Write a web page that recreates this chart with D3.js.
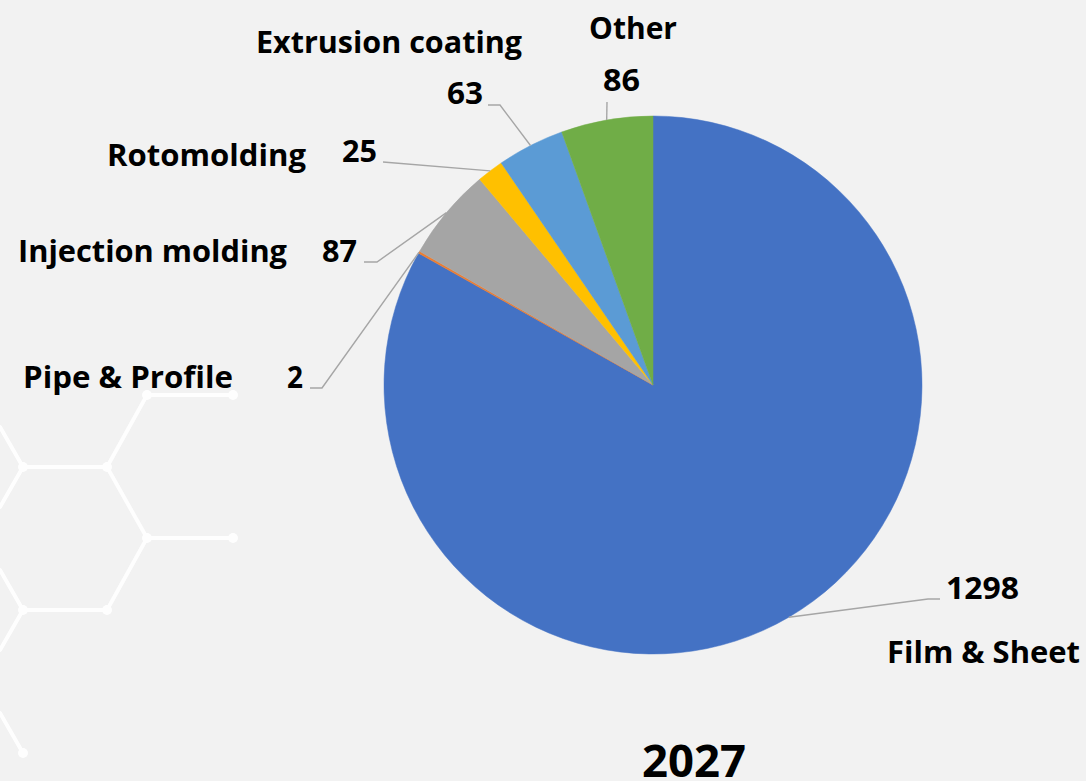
<!DOCTYPE html>
<html>
<head>
<meta charset="utf-8">
<script src="https://cdn.jsdelivr.net/npm/d3@7/dist/d3.min.js"></script>
<style>
  html, body { margin: 0; padding: 0; background: #f2f2f2; }
  svg { display: block; }
  text { font-family: "Open Sans", "Noto Sans", sans-serif; font-weight: 700; fill: #000; }
</style>
</head>
<body>
<svg id="chart" width="1086" height="781"></svg>
<script>
// ---- data ----
const categories = ["Film & Sheet", "Pipe & Profile", "Injection molding", "Rotomolding", "Extrusion coating", "Other"];
const values = [1298, 2, 87, 25, 63, 86];
const colors = ["#4472C4", "#ED7D31", "#A5A5A5", "#FFC000", "#5B9BD5", "#70AD47"];
const chartTitle = "2027";

// ---- layout (label placement, like the manually positioned Excel labels) ----
const labelLayout = [
  { elbow: [928, 599], end: [940, 599], vx: 946, vy: 599, va: "start",  vw: 73, nx: 887, ny: 663, na: "start",  nw: 193 },
  { elbow: [322, 388], end: [310, 388], vx: 303, vy: 388, va: "end",    vw: 16, nx: 233, ny: 388, na: "end",    nw: 210 },
  { elbow: [377, 262], end: [364, 262], vx: 357, vy: 262, va: "end",    vw: 35, nx: 287, ny: 262, na: "end",    nw: 269 },
  { elbow: [383, 162], end: [383, 162], vx: 377, vy: 162, va: "end",    vw: 35, nx: 306, ny: 166, na: "end",    nw: 199 },
  { elbow: [500, 105], end: [488, 105], vx: 483, vy: 104, va: "end",    vw: 36, nx: 256, ny: 53,  na: "start",  nw: 266 },
  { elbow: [607, 102], end: [607, 102], vx: 621.5, vy: 91, va: "middle", vw: 37, nx: 633, ny: 39,  na: "middle", nw: 88 }
];

// decorative molecule pattern in the background
const decoNodes = [[147,395],[233,395],[107,467],[23,467],[147,538],[233,538],[107,610],[23,610],[23,753]];
const decoLinks = [[[147,395],[233,395]],[[147,395],[107,467]],[[107,467],[23,467]],[[107,467],[147,538]],
  [[147,538],[233,538]],[[147,538],[107,610]],[[107,610],[23,610]],[[23,467],[0,427]],[[23,467],[0,507]],
  [[23,610],[0,570]],[[23,610],[0,650]],[[0,713],[23,753]]];

const W = 1086, H = 781;
const cx = 653, cy = 385, R = 269;

const svg = d3.select("#chart");
svg.append("rect").attr("width", W).attr("height", H).attr("fill", "#f2f2f2");

const deco = svg.append("g").attr("opacity", 0.95);
deco.selectAll("line").data(decoLinks).join("line")
  .attr("x1", d => d[0][0]).attr("y1", d => d[0][1])
  .attr("x2", d => d[1][0]).attr("y2", d => d[1][1])
  .attr("stroke", "#ffffff").attr("stroke-width", 4).attr("stroke-linecap", "round");
deco.selectAll("circle").data(decoNodes).join("circle")
  .attr("cx", d => d[0]).attr("cy", d => d[1]).attr("r", 5).attr("fill", "#ffffff");

const data = categories.map((c, i) => ({ name: c, value: values[i], color: colors[i], layout: labelLayout[i] }));

const pie = d3.pie().value(d => d.value).sort(null).startAngle(0).endAngle(2 * Math.PI);
const arcs = pie(data);
const arc = d3.arc().innerRadius(0).outerRadius(R);
const edgeArc = d3.arc().innerRadius(R).outerRadius(R);

const g = svg.append("g").attr("transform", `translate(${cx},${cy})`);
g.selectAll("path.slice").data(arcs).join("path")
  .attr("class", "slice")
  .attr("d", arc)
  .attr("fill", d => d.data.color)
  .attr("stroke", d => d.data.color)
  .attr("stroke-width", 0.5);

// leader lines
const lineGen = d3.line();
svg.append("g").selectAll("path").data(arcs).join("path")
  .attr("d", d => {
    const c = edgeArc.centroid(d);
    const p0 = [cx + c[0], cy + c[1]];
    return lineGen([p0, d.data.layout.elbow, d.data.layout.end]);
  })
  .attr("fill", "none")
  .attr("stroke", "#a6a6a6")
  .attr("stroke-width", 1.4);

// value labels
const labels = svg.append("g");
labels.selectAll("text.val").data(arcs).join("text")
  .attr("class", "val")
  .attr("x", d => d.data.layout.vx)
  .attr("y", d => d.data.layout.vy)
  .attr("text-anchor", d => d.data.layout.va)
  .attr("font-size", 31)
  .attr("textLength", d => d.data.layout.vw)
  .attr("lengthAdjust", "spacingAndGlyphs")
  .text(d => d3.format("d")(d.data.value));

// category labels
labels.selectAll("text.name").data(arcs).join("text")
  .attr("class", "name")
  .attr("x", d => d.data.layout.nx)
  .attr("y", d => d.data.layout.ny)
  .attr("text-anchor", d => d.data.layout.na)
  .attr("font-size", 31)
  .attr("textLength", d => d.data.layout.nw)
  .attr("lengthAdjust", "spacingAndGlyphs")
  .text(d => d.data.name);

// title
svg.append("text")
  .attr("x", 694).attr("y", 777)
  .attr("text-anchor", "middle")
  .attr("font-size", 45)
  .attr("textLength", 104)
  .attr("lengthAdjust", "spacingAndGlyphs")
  .text(chartTitle);
</script>
</body>
</html>
